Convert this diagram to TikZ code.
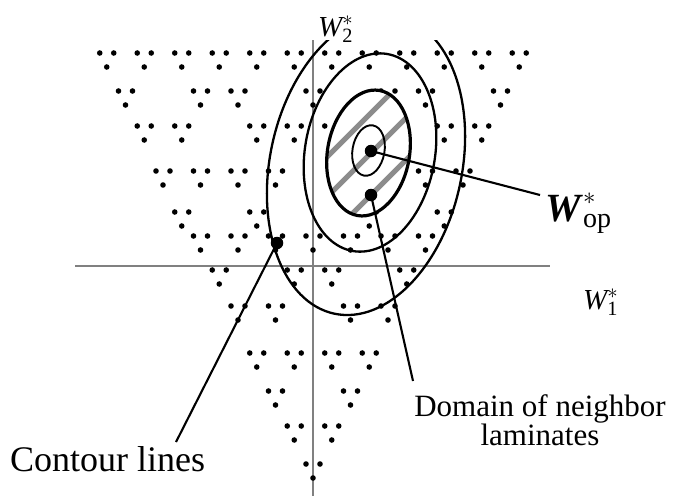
\documentclass[tikz,border=0pt]{standalone}
\usepackage{amsmath}
\usepackage{fontspec}
\setmainfont{Liberation Serif}
\usetikzlibrary{positioning}

\begin{document}
\begin{tikzpicture}[
    x=1pt, y=-1pt, % one unit per pixel, y pointing down
    axisline/.style={draw=gray, line width=1.1pt}, % the two axes
    contour/.style={line width=2.3pt}, % contour ellipses
    leader/.style={line width=2.1pt}, % label lines
    hatch/.style={draw=gray!90, line width=5pt}, % stripes of the domain
    bigdot/.style={fill=black, circle, inner sep=0pt, minimum size=12.5pt}, % marked points
    lamdot/.style={fill=black}, % small lamination points
    labelfont/.style={inner sep=0pt}
]
\useasboundingbox (0,0) rectangle (674,499);

% axes
\coordinate (ytop) at (313,40);
\coordinate (ybot) at (313,496);
\coordinate (xleft) at (75,266);
\coordinate (xright) at (550,266);
\draw[axisline] (ytop) -- (ybot);
\draw[axisline] (xleft) -- (xright);

% lamination points, one triple per cell: row/top y/cells
\foreach \r/\ty/\cells in {
    0/53/{0,1,...,11},
    1/91/{0,2,3,5,7,8,10},
    2/126/{0,1,3,4,5,6,8,9},
    3/171/{0,1,2,3,5,6,7,8},
    4/212/{0,2,5,7},
    5/236/{0,1,...,6},
    6/270/{0,2,3,5},
    7/306/{0,1,3,4},
    8/353/{0,1,2,3},
    9/391/{0,2},
    10/426/{0,1},
    11/464/{0}} {
  \foreach \i in \cells {
    \pgfmathsetmacro{\cx}{313+(\i-(11-\r)/2)*37.5}
    \fill[lamdot] (\cx-7,\ty) circle (2.8pt) (\cx+7,\ty) circle (2.8pt) (\cx,\ty+14) circle (2.8pt);
  }
}

% hatched domain of neighbor laminates
\begin{scope}
  \clip[rotate around={-10:(368.5,153)}] (368.5,153) ellipse [x radius=41pt, y radius=63.5pt];
  \fill[white] (300,80) rectangle (440,230);
  \foreach \c in {484,524,566}
    \draw[hatch] (\c-250,250) -- (\c-50,50);
\end{scope}

% contour lines
\draw[line width=1.9pt, rotate around={-10:(368.5,150.5)}] (368.5,150.5) ellipse [x radius=16pt, y radius=25.5pt];
\draw[line width=3.2pt, rotate around={-10:(368.5,153)}] (368.5,153) ellipse [x radius=41pt, y radius=63.5pt];
\draw[contour, rotate around={-10:(370,152.5)}] (370,152.5) ellipse [x radius=65pt, y radius=100pt];
\begin{scope}
  \clip (0,40) rectangle (674,499);
  \draw[contour, rotate around={-12:(366,165)}] (366,165) ellipse [x radius=96pt, y radius=152pt];
\end{scope}

% marked points
\node[bigdot] (wop) at (371,151) {};
\node[bigdot] (nbr) at (371,195) {};
\node[bigdot] (touch) at (277,243) {};

% labels
\node[labelfont, anchor=base west, font=\fontsize{29}{30}\selectfont] (wtwo) at (318,36) {$\textit{W}_{\text{2}}^{*}$};
\node[labelfont, anchor=base west, font=\fontsize{29}{30}\selectfont] (wone) at (583,309) {$\textit{W}_{\text{1}}^{*}$};
\node[labelfont, anchor=base west, font=\fontsize{40}{40}\selectfont] (woplab) at (545,221) {$\textbf{\textit{W}}_{\text{op}}^{*}$};
\node[labelfont, anchor=base, font=\fontsize{36}{40}\selectfont] (contourlab) at (107.5,471) {Contour lines};
\node[labelfont, anchor=north, align=center, font=\fontsize{31}{29}\selectfont] (domainlab) at (540,394) {Domain of neighbor\\laminates};

% leader lines
\coordinate (wopend) at (540,195);
\coordinate (domainend) at (413,381);
\coordinate (contourend) at (176,442);
\draw[leader] (wop.center) -- (wopend);
\draw[leader] (nbr.center) -- (domainend);
\draw[leader] (touch.center) -- (contourend);

\end{tikzpicture}
\end{document}
